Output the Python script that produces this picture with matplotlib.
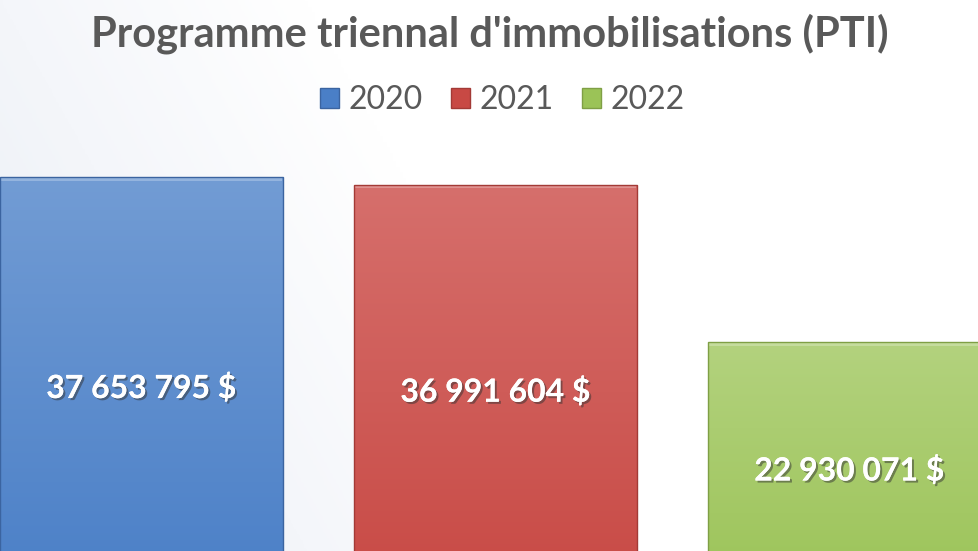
import numpy as np
import matplotlib
matplotlib.use("Agg")
import matplotlib.pyplot as plt
import matplotlib.patheffects as pe
from matplotlib.colors import LinearSegmentedColormap
from matplotlib.patches import Patch

years = ["2020", "2021", "2022"]
amounts = [37653795, 36991604, 22930071]
labels = ["37 653 795 $", "36 991 604 $", "22 930 071 $"]
top_colors = ["#729cd4", "#d66f6c", "#b3d27e"]
bottom_colors = ["#4a7fc7", "#c84944", "#9bc357"]
edge_colors = ["#3b64a0", "#a33a36", "#7f9f45"]

fig = plt.figure(figsize=(9.79, 5.51), dpi=100)

# faint background wash, lower left
bg = fig.add_axes([0, 0, 1, 1], zorder=-5)
yy, xx = np.mgrid[0:1:200j, 0:1:300j]
wash = np.clip(1.0 - (xx * 1.6 + (1 - yy) * 0.5), 0, 1)
bg_cmap = LinearSegmentedColormap.from_list("bg", ["#ffffff", "#e9edf5"])
bg.imshow(wash, cmap=bg_cmap, extent=[0, 1, 0, 1], aspect="auto", origin="upper", vmin=0, vmax=1)
bg.axis("off")

# axes top at ~160 px; baseline lies below the figure edge
ax = fig.add_axes([0, 0, 1, 391 / 551])
ax.set_facecolor("none")
x = np.arange(len(years))
width = 0.8
bars = ax.bar(x, amounts, width=width, color="none", edgecolor="none")
ax.set_xlim(-0.4, 2.366)
ax.set_ylim(4.28e6, 39.18e6)
ax.axis("off")

grad = np.linspace(0, 1, 256).reshape(-1, 1)
for i, b in enumerate(bars):
    cmap = LinearSegmentedColormap.from_list("g%d" % i, [bottom_colors[i], top_colors[i]])
    x0, w, h = b.get_x(), b.get_width(), b.get_height()
    im = ax.imshow(grad, cmap=cmap, extent=[x0, x0 + w, 0, h], aspect="auto",
                   origin="lower", zorder=2)
    im.set_clip_path(b)
    # bevel highlight along the top
    ax.fill_between([x0 + 0.004, x0 + w - 0.004], h - 0.35e6, h, color="white",
                    alpha=0.25, lw=0, zorder=3)
    ax.bar(x[i], h, width=width, color="none", edgecolor=edge_colors[i], lw=1.0, zorder=4)
    ax.text(x[i], h / 2, labels[i], ha="center", va="center", color="white",
            fontsize=23, fontweight="bold", family=["Lato", "DejaVu Sans"], zorder=5,
            path_effects=[pe.withSimplePatchShadow(offset=(1.5, -1.5), shadow_rgbFace="#333333", alpha=0.5),
                          pe.Normal()])

fig.text(0.5, 0.938, "Programme triennal d'immobilisations (PTI)", ha="center", va="center",
         fontsize=30, fontweight="bold", color="#595959", family=["Lato", "DejaVu Sans"])

handles = [Patch(facecolor=bottom_colors[i], edgecolor=edge_colors[i], label=years[i])
           for i in range(len(years))]
leg = fig.legend(handles=handles, loc="center", bbox_to_anchor=(0.513, 0.818), ncol=3,
                 frameon=False, handlelength=0.58, handleheight=0.58,
                 handletextpad=0.3, columnspacing=0.9,
                 prop={"family": ["Lato", "DejaVu Sans"], "size": 23})
for t in leg.get_texts():
    t.set_color("#595959")

fig.savefig("out.png", dpi=100)
